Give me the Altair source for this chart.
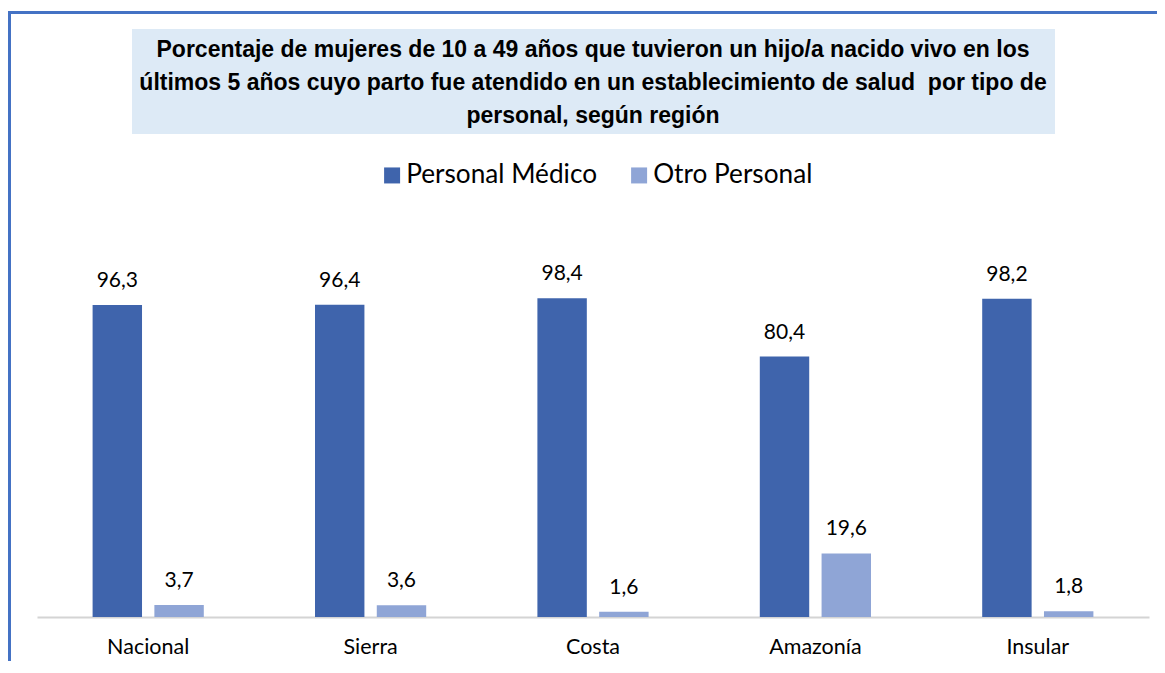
import altair as alt
import pandas as pd

regions = ["Nacional", "Sierra", "Costa", "Amazonía", "Insular"]
medico = [96.3, 96.4, 98.4, 80.4, 98.2]
otro = [3.7, 3.6, 1.6, 19.6, 1.8]
series = ["Personal Médico", "Otro Personal"]
colors = ["#3F64AC", "#8FA5D6"]
title_lines = [
    "Porcentaje de mujeres de 10 a 49 años que tuvieron un hijo/a nacido vivo en los",
    "últimos 5 años cuyo parto fue atendido en un establecimiento de salud\u00a0 por tipo de",
    "personal, según región",
]

rows = []
for r, m, o in zip(regions, medico, otro):
    rows.append({"region": r, "serie": series[0], "valor": m, "label": f"{m:.1f}".replace(".", ",")})
    rows.append({"region": r, "serie": series[1], "valor": o, "label": f"{o:.1f}".replace(".", ",")})
df = pd.DataFrame(rows)

W, H = 1112, 324

x_enc = alt.X("region:N", sort=regions,
              scale=alt.Scale(paddingInner=0.5, paddingOuter=0.25),
              axis=alt.Axis(title=None, domainColor="#D4D4D4", domainWidth=2, ticks=False,
                            labelFont="Lato", labelFontSize=21.5, labelColor="#000000",
                            labelPadding=19, labelAngle=0, grid=False))
xo_enc = alt.XOffset("serie:N", sort=series, scale=alt.Scale(paddingInner=0.2, paddingOuter=0))
y_enc = alt.Y("valor:Q", scale=alt.Scale(domain=[0, 100], nice=False, zero=True), axis=None)

base = alt.Chart(df)

bars = base.mark_bar().encode(
    x=x_enc, xOffset=xo_enc, y=y_enc,
    color=alt.Color("serie:N", sort=series,
                    scale=alt.Scale(domain=series, range=colors),
                    legend=alt.Legend(title=None, orient="none", direction="horizontal",
                                      legendX=342, legendY=-131, padding=0,
                                      symbolType="square", symbolSize=256, symbolStrokeWidth=0,
                                      symbolOpacity=1, labelFont="Lato", labelFontSize=26.2,
                                      labelColor="#000000", labelOffset=1, columnPadding=28,
                                      labelLimit=400)),
)

texts = base.mark_text(baseline="alphabetic", dy=-18, font="Lato", fontSize=21, color="#000000").encode(
    x=x_enc, xOffset=xo_enc, y=y_enc, text="label:N"
)

box_df = pd.DataFrame({"k": [0]})
title_box = alt.Chart(box_df).mark_rect(color="#DDEAF6").encode(
    x=alt.value(95), x2=alt.value(1018), y=alt.value(-264), y2=alt.value(-159)
)
frame_left = alt.Chart(box_df).mark_rule(color="#4472C4", strokeWidth=3).encode(
    x=alt.value(-27.5), y=alt.value(-282), y2=alt.value(400)
)
frame_top = alt.Chart(box_df).mark_rule(color="#4472C4", strokeWidth=3).encode(
    x=alt.value(-29), x2=alt.value(1130), y=alt.value(-280.5)
)

chart = alt.layer(title_box, frame_left, frame_top, bars, texts).properties(
    width=W, height=H,
    padding={"left": 29, "top": 285, "right": 8, "bottom": 44},
    autosize=alt.AutoSizeParams(type="none"),
    title=alt.TitleParams(title_lines, font="Liberation Sans", fontSize=23, fontWeight="bold",
                          color="#000000", lineHeight=33, anchor="middle", offset=-118),
).configure_view(strokeWidth=0)

chart.save("out.html", embed_options={"renderer": "svg", "actions": False})
